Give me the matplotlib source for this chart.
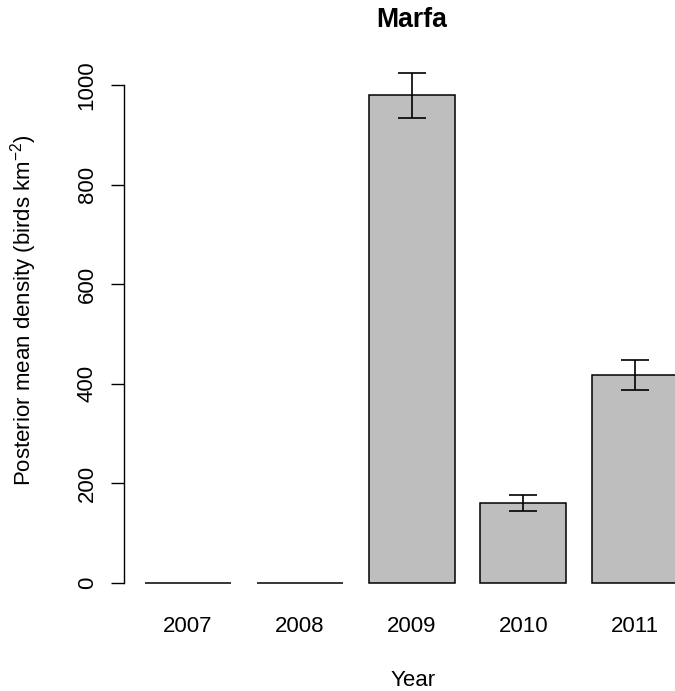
import numpy as np
import matplotlib
matplotlib.use('Agg')
import matplotlib.pyplot as plt

plt.rcParams['font.family'] = ['Liberation Sans', 'DejaVu Sans']
plt.rcParams['mathtext.fontset'] = 'custom'
plt.rcParams['mathtext.rm'] = 'Liberation Sans'
plt.rcParams['mathtext.it'] = 'Liberation Sans'
plt.rcParams['mathtext.default'] = 'regular'

# posterior mean density per year, with interval limits
years = ['2007', '2008', '2009', '2010', '2011']
density = [0, 0, 979, 161, 418]
lower = [np.nan, np.nan, 934, 145, 388]
upper = [np.nan, np.nan, 1023, 177, 448]

W, H = 675, 691
fig = plt.figure(figsize=(W / 100, H / 100), dpi=100)
# plot region in pixels: left 124, right 700 (runs past the page), top 65, bottom 603
ax = fig.add_axes([124 / W, (H - 603) / H, 576 / W, 538 / H])

x = np.arange(len(years))
dens = np.array(density, dtype=float)
lo = np.array(lower, dtype=float)
hi = np.array(upper, dtype=float)

ax.bar(x, dens, width=0.77, color='#BEBEBE', edgecolor='black', linewidth=1.1)

ok = ~np.isnan(lo)
ax.errorbar(x[ok], dens[ok], yerr=[dens[ok] - lo[ok], hi[ok] - dens[ok]],
            fmt='none', ecolor='black', elinewidth=1.2, capsize=10, capthick=1.2)

ax.set_xlim(-0.5725, 4.58)
ax.set_ylim(-40, 1040)

for s in ['top', 'right', 'bottom']:
    ax.spines[s].set_visible(False)
ax.spines['left'].set_bounds(0, 1000)
ax.spines['left'].set_linewidth(1.0)

ax.set_yticks([0, 200, 400, 600, 800, 1000])
ax.set_yticklabels(['0', '200', '400', '600', '800', '1000'], rotation=90, va='center')
ax.tick_params(axis='y', length=9.4, width=1.0, pad=9.5, labelsize=16)

ax.set_xticks(x)
ax.set_xticklabels(years)
ax.tick_params(axis='x', length=0, pad=9, labelsize=16)

fig.text(412 / W, 1 - 27 / H, 'Marfa', ha='center', va='baseline',
         fontsize=19.2, fontweight='bold')
fig.text(413 / W, 1 - 686 / H, 'Year', ha='center', va='baseline', fontsize=16)
fig.text(24 / W, 1 - 310 / H, 'Posterior mean density (birds km$^{-2}$)',
         ha='center', va='center', rotation=90, fontsize=16)

fig.savefig('out.png', dpi=100, facecolor='white')
